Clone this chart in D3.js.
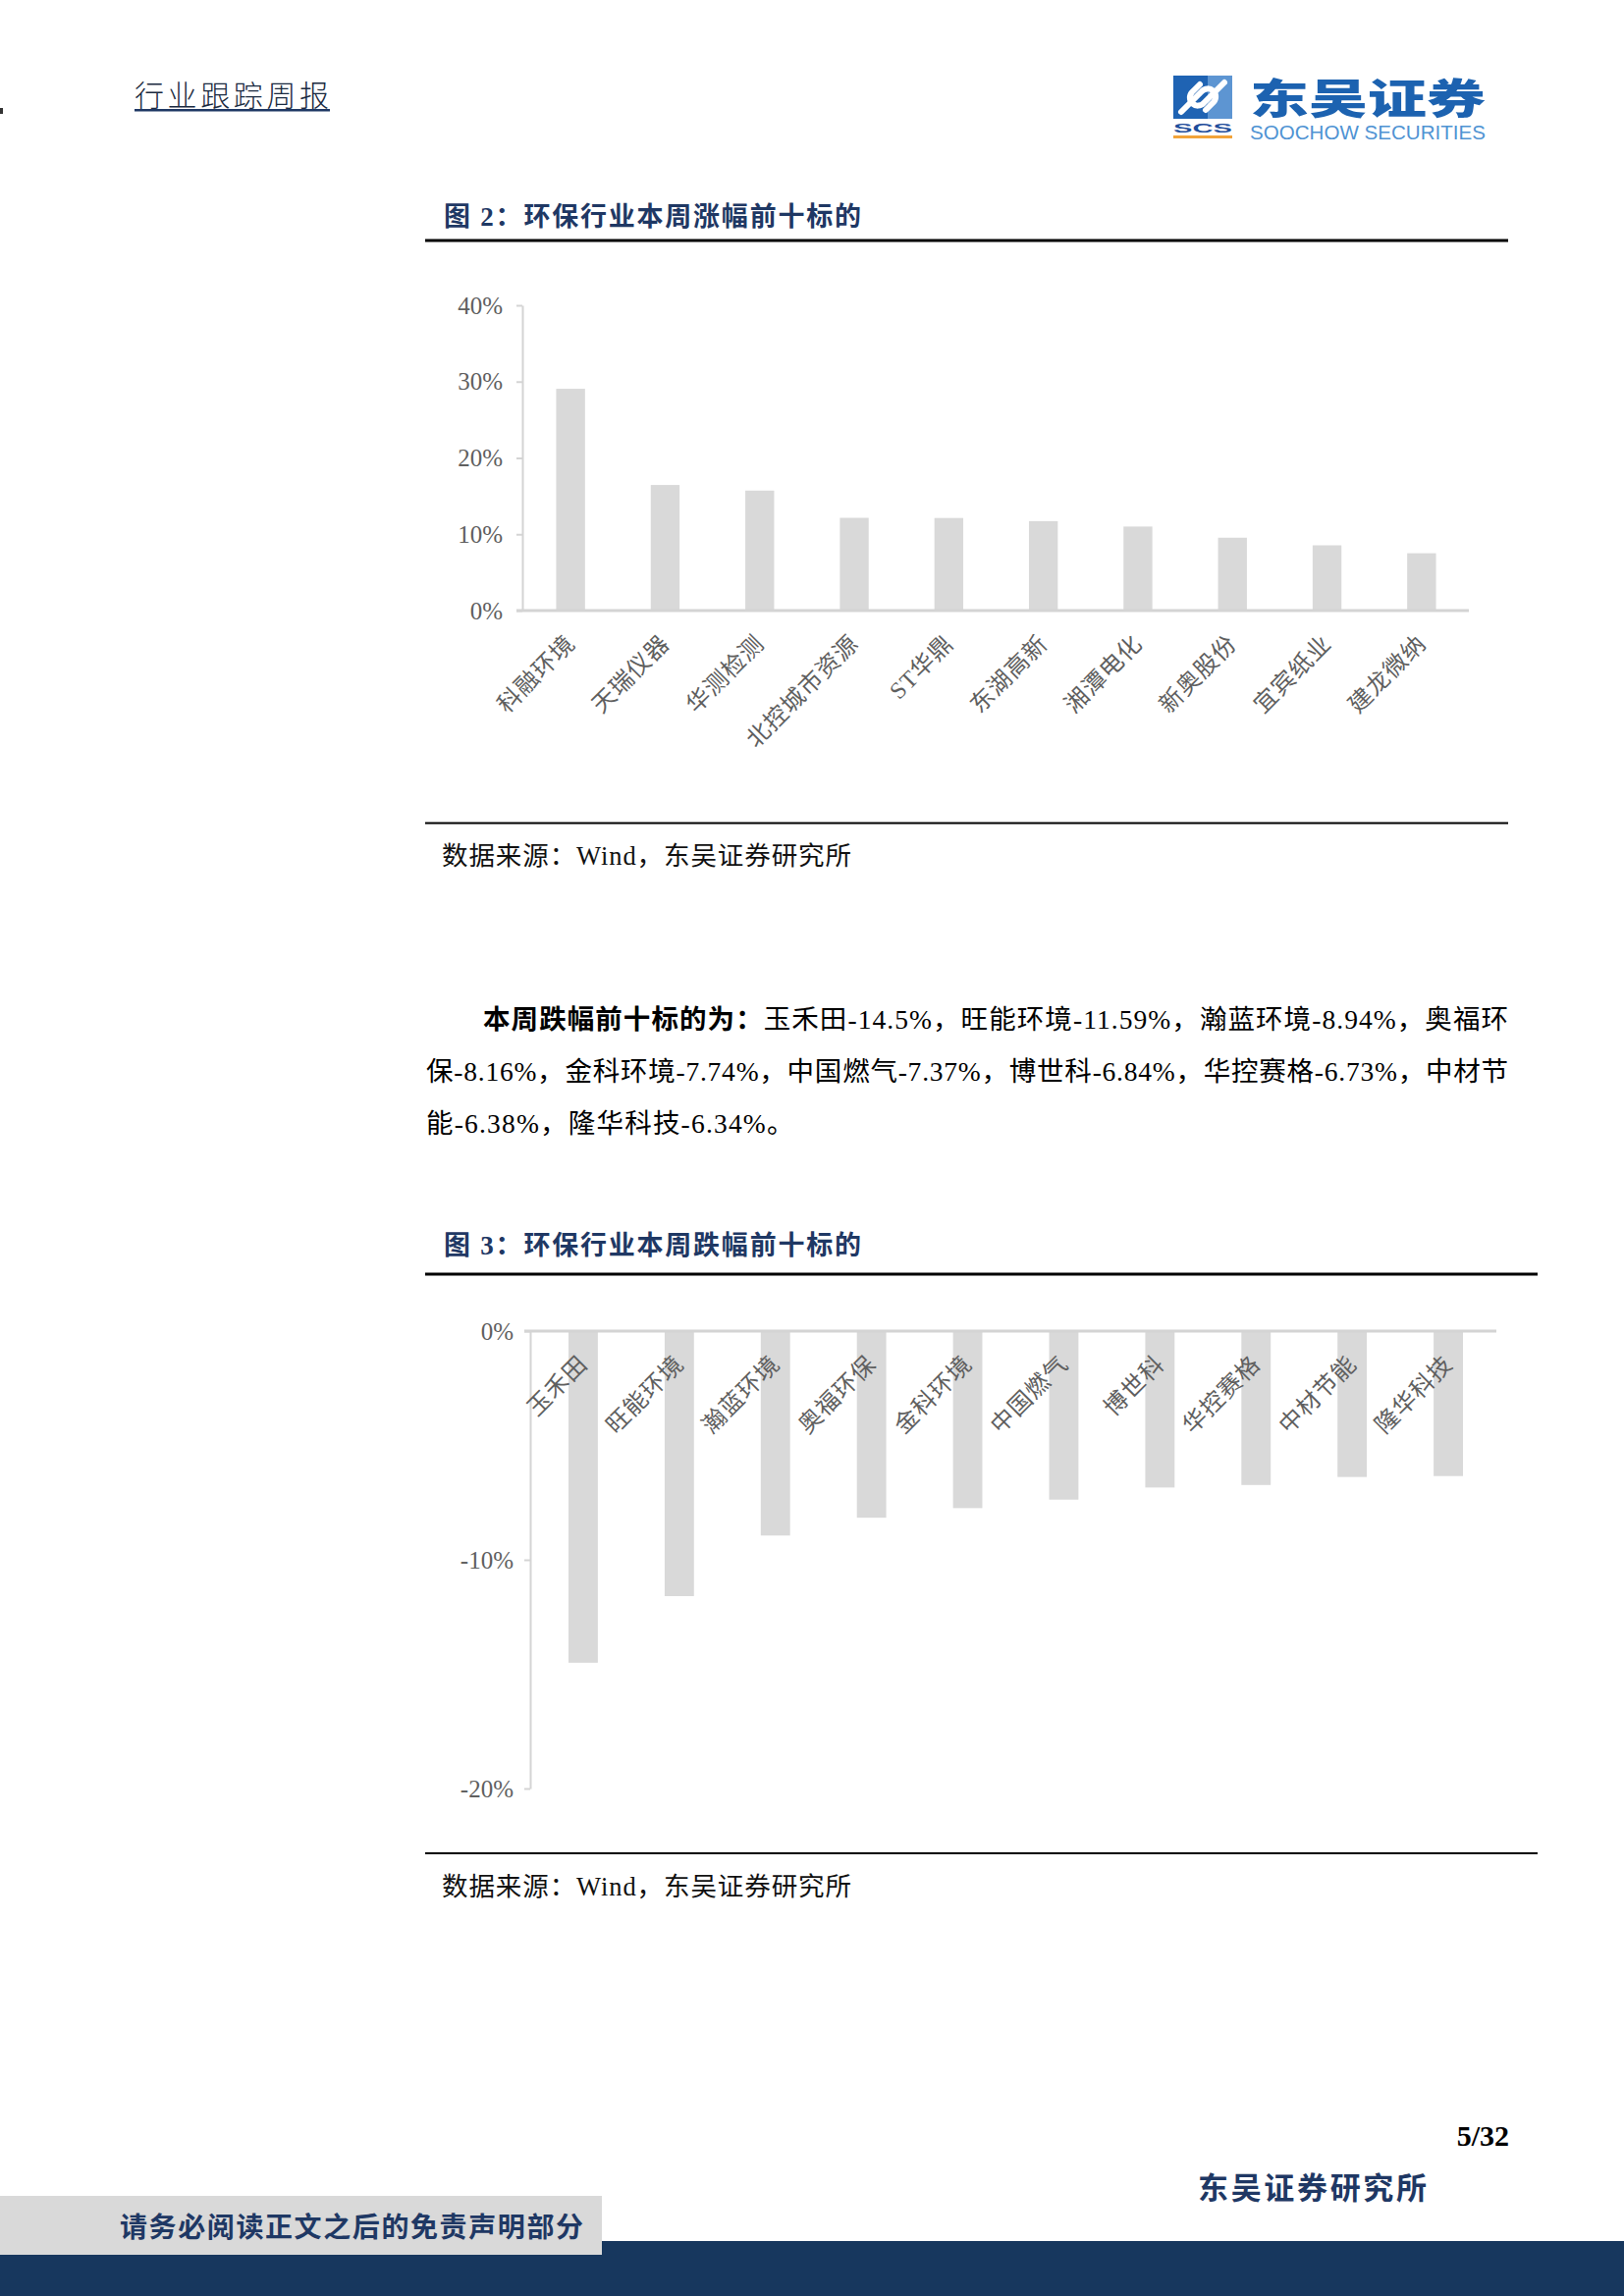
<!DOCTYPE html>
<html>
<head>
<meta charset="utf-8">
<script src="https://cdn.jsdelivr.net/npm/d3@7"></script>
<style>
  body { margin: 0; background: #fff; }
  svg { display: block; }
</style>
</head>
<body>
<svg id="page" width="1654" height="2339"></svg>
<script>
// ---------- data ----------
const upCategories = ["科融环境","天瑞仪器","华测检测","北控城市资源","ST华鼎","东湖高新","湘潭电化","新奥股份","宜宾纸业","建龙微纳"];
const upValues = [29.06, 16.45, 15.72, 12.15, 12.13, 11.72, 11.01, 9.55, 8.55, 7.51];
const upTicks = [0, 10, 20, 30, 40];

const downCategories = ["玉禾田","旺能环境","瀚蓝环境","奥福环保","金科环境","中国燃气","博世科","华控赛格","中材节能","隆华科技"];
const downValues = [-14.5, -11.59, -8.94, -8.16, -7.74, -7.37, -6.84, -6.73, -6.38, -6.34];
const downTicks = [0, -10, -20];

const paragraphLines = [
  [{t:"本周跌幅前十标的为：", b:true}, {t:"玉禾田-14.5%，旺能环境-11.59%，瀚蓝环境-8.94%，奥福环", b:false}],
  [{t:"保-8.16%，金科环境-7.74%，中国燃气-7.37%，博世科-6.84%，华控赛格-6.73%，中材节", b:false}],
  [{t:"能-6.38%，隆华科技-6.34%。", b:false}]
];

// ---------- styles ----------
const SERIF = "'Liberation Serif','Noto Sans CJK SC',serif";
const CJK = "'Noto Sans CJK SC','Liberation Serif',sans-serif";
const NAVY = "#1f3864";
const BAR = "#d9d9d9";
const AXIS = "#d4d4d4";
const LABEL = "#5f5f5f";

const svg = d3.select("#page");
svg.append("rect").attr("width", 1654).attr("height", 2339).attr("fill", "#fff");

function fitWidth(sel, target) {
  const node = sel.node();
  const natural = node.getComputedTextLength();
  const n = node.textContent.length;
  if (n > 1) sel.attr("letter-spacing", (target - natural) / (n - 1));
}

// ---------- header ----------
svg.append("rect").attr("x", 0).attr("y", 110).attr("width", 3).attr("height", 6).attr("fill", "#333");
const hdr = svg.append("text").attr("x", 137).attr("y", 95)
  .attr("dominant-baseline", "central")
  .style("font-family", CJK).style("font-size", "30px").style("font-weight", 300)
  .attr("fill", "#1a2a40").text("行业跟踪周报");
fitWidth(hdr, 198);
svg.append("rect").attr("x", 137).attr("y", 111).attr("width", 199).attr("height", 2.5).attr("fill", NAVY);

// logo
const logo = svg.append("g");
logo.append("rect").attr("x", 1195).attr("y", 77).attr("width", 60).attr("height", 44).attr("fill", "#1f63b3");
logo.append("rect").attr("x", 1230).attr("y", 77).attr("width", 25).attr("height", 44).attr("fill", "#5d95d2");
logo.append("path")
  .attr("d", "M1203,114 L1224,93 A8,8 0 0 1 1236,104 L1228,112")
  .attr("fill", "none").attr("stroke", "#fff").attr("stroke-width", 6).attr("stroke-linecap", "round");
logo.append("path")
  .attr("d", "M1247,84 L1226,105 A8,8 0 0 1 1214,94 L1222,86")
  .attr("fill", "none").attr("stroke", "#fff").attr("stroke-width", 6).attr("stroke-linecap", "round");
logo.append("text").attr("x", 1195).attr("y", 135)
  .attr("textLength", 60).attr("lengthAdjust", "spacingAndGlyphs")
  .style("font-family", "'Liberation Sans',sans-serif").style("font-size", "13px").style("font-weight", 700)
  .attr("fill", "#1f4e9c").text("SCS");
logo.append("rect").attr("x", 1195).attr("y", 138).attr("width", 60).attr("height", 3).attr("fill", "#f2a33a");
logo.append("text").attr("x", 1273).attr("y", 97)
  .attr("dominant-baseline", "central")
  .attr("textLength", 240).attr("lengthAdjust", "spacingAndGlyphs")
  .style("font-family", CJK).style("font-size", "42px").style("font-weight", 900)
  .attr("fill", "#1c62b0").text("东吴证券");
logo.append("text").attr("x", 1273).attr("y", 142)
  .attr("textLength", 240).attr("lengthAdjust", "spacingAndGlyphs")
  .style("font-family", "'Liberation Sans Narrow','Liberation Sans',sans-serif").style("font-size", "21px")
  .attr("fill", "#4f93d3").text("SOOCHOW SECURITIES");

// ---------- helpers ----------
function figureTitle(x, cy, txt, width) {
  const t = svg.append("text").attr("x", x).attr("y", cy)
    .attr("dominant-baseline", "central")
    .style("font-family", SERIF).style("font-size", "27px").style("font-weight", 700)
    .attr("fill", NAVY).text(txt);
  fitWidth(t, width);
}
function rule(x1, x2, y, w) {
  svg.append("line").attr("x1", x1).attr("x2", x2).attr("y1", y).attr("y2", y)
    .attr("stroke", "#000").attr("stroke-width", w);
}
function sourceText(x, cy) {
  const t = svg.append("text").attr("x", x).attr("y", cy)
    .attr("dominant-baseline", "central")
    .style("font-family", SERIF).style("font-size", "26.5px")
    .attr("fill", "#111").text("数据来源：Wind，东吴证券研究所");
  fitWidth(t, 417);
}

function barChart(opts) {
  const g = svg.append("g");
  const y = d3.scaleLinear().domain(opts.yDomain).range(opts.yRange);
  const x = d3.scaleBand().domain(opts.cats).range(opts.xRange)
    .paddingInner(0.695).paddingOuter(0.3475);

  // bars
  g.selectAll("rect.bar").data(opts.vals).join("rect")
    .attr("class", "bar")
    .attr("x", (d, i) => x(opts.cats[i]))
    .attr("width", x.bandwidth())
    .attr("y", d => Math.min(y(d), y(0)))
    .attr("height", d => Math.abs(y(d) - y(0)))
    .attr("fill", BAR);

  // y axis
  const ya = g.append("g").attr("transform", `translate(${opts.axisX},0)`)
    .call(d3.axisLeft(y).tickValues(opts.ticks).tickFormat(d => d + "%")
      .tickSize(6).tickSizeOuter(0).tickPadding(opts.tickPad));
  ya.select(".domain").attr("stroke", AXIS).attr("stroke-width", 2);
  ya.selectAll(".tick line").attr("stroke", AXIS).attr("stroke-width", 2);
  ya.selectAll(".tick text").attr("fill", LABEL)
    .style("font-family", SERIF).style("font-size", "25px");

  // x axis (zero line)
  const xa = g.append("g").attr("transform", `translate(0,${y(0)})`)
    .call(d3.axisBottom(x).tickSize(0).tickSizeOuter(0));
  xa.select(".domain").attr("stroke", AXIS).attr("stroke-width", 3)
    .attr("d", `M${opts.axisX - 6},0H${opts.xRange[1]}`);
  xa.selectAll(".tick text")
    .attr("x", 0).attr("y", 0).attr("dy", 0)
    .attr("transform", "translate(6,35) rotate(-45)")
    .attr("text-anchor", "end")
    .attr("dominant-baseline", "auto")
    .attr("fill", LABEL)
    .attr("letter-spacing", 1)
    .style("font-family", SERIF).style("font-size", "24px");
  xa.raise();
}

// ---------- Figure 2 ----------
figureTitle(452, 221, "图 2：环保行业本周涨幅前十标的", 425);
rule(433, 1536, 245, 3);
barChart({
  cats: upCategories, vals: upValues, ticks: upTicks,
  yDomain: [0, 40], yRange: [622, 311],
  xRange: [533, 1496], axisX: 532, tickPad: 14
});
rule(433, 1536, 838.5, 2);
sourceText(450, 872);

// ---------- paragraph ----------
const paraX = [492, 434, 434];
const paraY = [1038, 1091, 1144];
const paraRight = 1536;
paragraphLines.forEach((parts, i) => {
  const t = svg.append("text").attr("x", paraX[i]).attr("y", paraY[i])
    .attr("dominant-baseline", "central")
    .style("font-family", SERIF).style("font-size", "27.5px").attr("fill", "#000");
  parts.forEach(p => {
    t.append("tspan").style("font-weight", p.b ? 700 : 400).text(p.t);
  });
  if (i < 2) fitWidth(t, paraRight - paraX[i]);
  else t.attr("letter-spacing", 1.2);
});

// ---------- Figure 3 ----------
figureTitle(452, 1269, "图 3：环保行业本周跌幅前十标的", 425);
rule(433, 1566, 1298, 3);
barChart({
  cats: downCategories, vals: downValues, ticks: downTicks,
  yDomain: [-20, 0], yRange: [1822, 1356],
  xRange: [545, 1524], axisX: 540, tickPad: 11
});
rule(433, 1566, 1888, 2);
sourceText(450, 1922);

// ---------- footer ----------
svg.append("text").attr("x", 1537).attr("y", 2175)
  .attr("dominant-baseline", "central").attr("text-anchor", "end")
  .style("font-family", "'Liberation Serif',serif").style("font-size", "30px").style("font-weight", 700)
  .attr("fill", "#000").text("5/32");
const inst = svg.append("text").attr("x", 1220).attr("y", 2226)
  .attr("dominant-baseline", "central")
  .style("font-family", CJK).style("font-size", "31px").style("font-weight", 700)
  .attr("fill", NAVY).text("东吴证券研究所");
fitWidth(inst, 233);
svg.append("rect").attr("x", 0).attr("y", 2283).attr("width", 1654).attr("height", 56).attr("fill", "#17375e");
svg.append("rect").attr("x", 0).attr("y", 2237).attr("width", 613).attr("height", 60).attr("fill", "#d9d9d9");
const disc = svg.append("text").attr("x", 122).attr("y", 2267)
  .attr("dominant-baseline", "central")
  .style("font-family", CJK).style("font-size", "28px").style("font-weight", 700)
  .attr("fill", NAVY).text("请务必阅读正文之后的免责声明部分");
fitWidth(disc, 472);
</script>
</body>
</html>
